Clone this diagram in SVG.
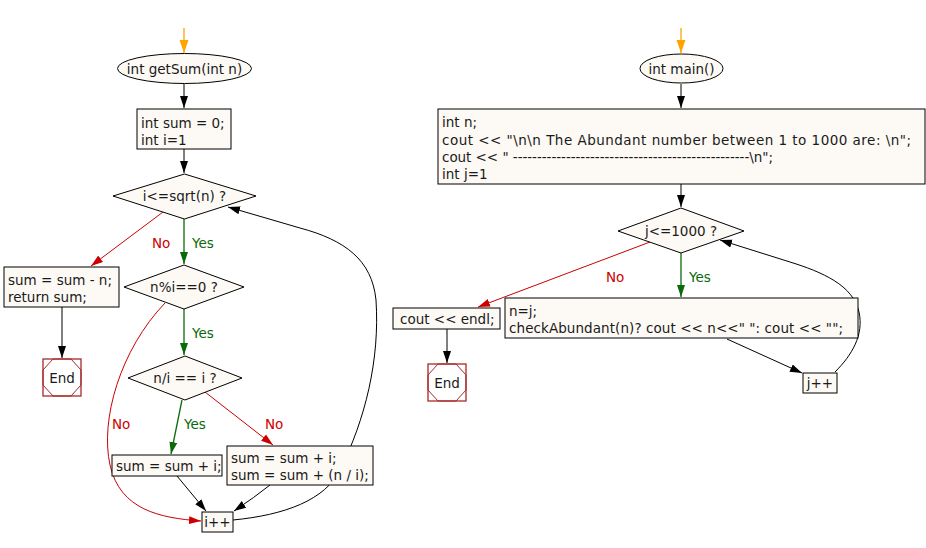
<svg xmlns="http://www.w3.org/2000/svg" width="926" height="548" viewBox="0 0 926 548">
<style>
text{font-family:"DejaVu Sans","Liberation Sans",sans-serif;font-size:13.5px;fill:#1a1a1a}
.n{fill:#fdf9f4;stroke:#000;stroke-width:1}
.c{fill:none;stroke:#000;stroke-width:1}
.g{fill:none;stroke:#0a6a0a;stroke-width:1.3}
.r{fill:none;stroke:#cc0000;stroke-width:1}
.o{fill:none;stroke:#ffa500;stroke-width:1.3}
.end{fill:#fff;stroke:#a52a2a;stroke-width:1.3}
.endi{fill:none;stroke:#a52a2a;stroke-width:1}
.ty{fill:#0a6a0a}
.tn{fill:#cc0000}
.m{text-anchor:middle}
</style>
<defs>
<marker id="ab" markerWidth="12" markerHeight="10" refX="12" refY="5" orient="auto" markerUnits="userSpaceOnUse"><path d="M0,1 L12,5 L0,9 z" fill="#000"/></marker>
<marker id="ag" markerWidth="12" markerHeight="10" refX="12" refY="5" orient="auto" markerUnits="userSpaceOnUse"><path d="M0,1 L12,5 L0,9 z" fill="#0a6a0a"/></marker>
<marker id="ar" markerWidth="12" markerHeight="10" refX="12" refY="5" orient="auto" markerUnits="userSpaceOnUse"><path d="M0,1 L12,5 L0,9 z" fill="#cc0000"/></marker>
<marker id="ao" markerWidth="13" markerHeight="10" refX="13" refY="5" orient="auto" markerUnits="userSpaceOnUse"><path d="M0,0.5 L13,5 L0,9.5 z" fill="#ffa500"/></marker>
</defs>
<g id="connectors">
<path class="o" d="M184,28 L184,53" marker-end="url(#ao)"/>
<path class="c" d="M184,84 L184,108" marker-end="url(#ab)"/>
<path class="c" d="M184,149 L184,173" marker-end="url(#ab)"/>
<path class="g" d="M184,219 L184,264" marker-end="url(#ag)"/>
<path class="r" d="M163,212 L91,266" marker-end="url(#ar)"/>
<path class="c" d="M62,307 L62,358" marker-end="url(#ab)"/>
<path class="g" d="M184,309 L184,355" marker-end="url(#ag)"/>
<path class="g" d="M182,400 L171,454" marker-end="url(#ag)"/>
<path class="r" d="M205,392 L273,445" marker-end="url(#ar)"/>
<path class="c" d="M177,476 L206,511" marker-end="url(#ab)"/>
<path class="c" d="M270,485 Q255,497 234,511" marker-end="url(#ab)"/>
<path class="r" d="M165,303 C120,350 100,420 110,465 C120,510 160,518 201,521" marker-end="url(#ar)"/>
<path class="c" d="M233,520 C285,515 325,500 340,470 C365,420 380,360 376,300 C372,260 345,240 300,228 L228,207" marker-end="url(#ab)"/>
<path class="o" d="M681,28 L681,53" marker-end="url(#ao)"/>
<path class="c" d="M681,84 L681,108" marker-end="url(#ab)"/>
<path class="c" d="M681,184 L681,207" marker-end="url(#ab)"/>
<path class="g" d="M681,253 L681,297" marker-end="url(#ag)"/>
<path class="r" d="M650,242 L478,307" marker-end="url(#ar)"/>
<path class="c" d="M447,329 L447,363" marker-end="url(#ab)"/>
<path class="c" d="M727,339 L802,373" marker-end="url(#ab)"/>
<path class="c" d="M835,372 C852,355 864,335 859,312 C853,285 822,272 790,262 L720,240" marker-end="url(#ab)"/>
<text class="tn" x="152" y="248">No</text>
<text class="ty" x="192" y="248">Yes</text>
<text class="ty" x="192" y="338">Yes</text>
<text class="tn" x="112" y="429">No</text>
<text class="ty" x="184" y="429">Yes</text>
<text class="tn" x="265" y="429">No</text>
<text class="tn" x="606" y="282">No</text>
<text class="ty" x="689" y="282">Yes</text>
</g>
<g id="getSum">
<ellipse class="n" cx="184.5" cy="68.5" rx="67" ry="15"/>
<text class="m" x="184.5" y="73.5">int getSum(int n)</text>
</g>
<g id="init1">
<rect class="n" x="137" y="109" width="94" height="40"/>
<text x="141" y="128">int sum = 0;</text>
<text x="141" y="145">int i=1</text>
</g>
<g id="cond1">
<polygon class="n" points="113,196 184.5,174 256,196 184.5,219"/>
<text class="m" x="184.5" y="201">i&lt;=sqrt(n) ?</text>
</g>
<g id="ret">
<rect class="n" x="4" y="267" width="115" height="40"/>
<text x="8" y="285">sum = sum - n;</text>
<text x="8" y="302">return sum;</text>
</g>
<g id="end1">
<rect class="end" x="43" y="359" width="38" height="37"/>
<polygon class="endi" points="53,359 71,359 81,370 81,385 71,396 53,396 43,385 43,370"/>
<text class="m" x="62" y="383">End</text>
</g>
<g id="cond2">
<polygon class="n" points="124,287 184,265 244,287 184,309"/>
<text class="m" x="184" y="292">n%i==0 ?</text>
</g>
<g id="cond3">
<polygon class="n" points="128,378 185,356 242,378 185,400"/>
<text class="m" x="185" y="383">n/i == i ?</text>
</g>
<g id="add1">
<rect class="n" x="112" y="455" width="110" height="21"/>
<text x="116" y="471">sum = sum + i;</text>
</g>
<g id="add2">
<rect class="n" x="227" y="446" width="146" height="39"/>
<text x="231" y="463">sum = sum + i;</text>
<text x="231" y="480">sum = sum + (n / i);</text>
</g>
<g id="inc1">
<rect class="n" x="202" y="512" width="31" height="20"/>
<text class="m" x="217.5" y="527">i++</text>
</g>
<g id="main">
<ellipse class="n" cx="681.5" cy="68.5" rx="41.5" ry="14.5"/>
<text class="m" x="681.5" y="73.5">int main()</text>
</g>
<g id="init2">
<rect class="n" x="438" y="109" width="487" height="75"/>
<text x="442" y="127">int n;</text>
<text x="442" y="145" textLength="469" lengthAdjust="spacing">cout &lt;&lt; "\n\n The Abundant number between 1 to 1000 are: \n";</text>
<text x="442" y="162" textLength="331" lengthAdjust="spacing">cout &lt;&lt; " -------------------------------------------------\n";</text>
<text x="442" y="179">int j=1</text>
</g>
<g id="cond4">
<polygon class="n" points="618,231 681,208 744,231 681,253"/>
<text class="m" x="681" y="236">j&lt;=1000 ?</text>
</g>
<g id="endl">
<rect class="n" x="393" y="308" width="107" height="21"/>
<text x="400" y="324">cout &lt;&lt; endl;</text>
</g>
<g id="check">
<rect class="n" x="505" y="298" width="353" height="40"/>
<text x="509" y="316">n=j;</text>
<text x="509" y="333" textLength="334" lengthAdjust="spacing">checkAbundant(n)? cout &lt;&lt; n&lt;&lt;" ": cout &lt;&lt; "";</text>
</g>
<g id="end2">
<rect class="end" x="428" y="364" width="38" height="37"/>
<polygon class="endi" points="438,364 456,364 466,375 466,390 456,401 438,401 428,390 428,375"/>
<text class="m" x="447" y="388">End</text>
</g>
<g id="inc2">
<rect class="n" x="803" y="373" width="34" height="20"/>
<text class="m" x="820" y="388">j++</text>
</g>
</svg>
